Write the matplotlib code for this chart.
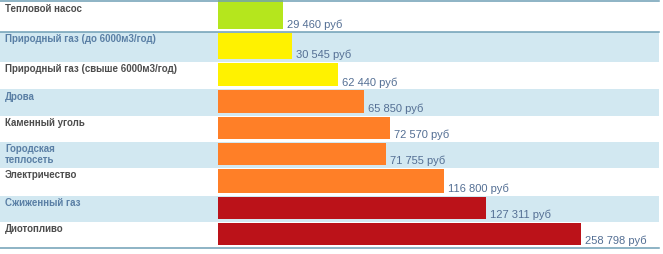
import matplotlib.pyplot as plt
from matplotlib.patches import Rectangle

# categories, yearly heating cost and the bar lengths as drawn in the picture
# (the original bars are not proportional to the costs)
categories = ["Тепловой насос", "Природный газ (до 6000м3/год)",
              "Природный газ (свыше 6000м3/год)", "Дрова", "Каменный уголь",
              "Городская\nтеплосеть", "Электричество", "Сжиженный газ", "Диотопливо"]
costs = [29460, 30545, 62440, 65850, 72570, 71755, 116800, 127311, 258798]
bar_len = [65, 74, 120, 146, 172, 168, 226, 268, 363]
bar_colors = ["#b5e61d", "#fff200", "#fff200", "#ff7f27", "#ff7f27",
              "#ff7f27", "#ff7f27", "#bb1219", "#bb1219"]

W, H = 663, 254
fig = plt.figure(figsize=(W / 100, H / 100), dpi=100)
ax = fig.add_axes([0, 0, 1, 1])
ax.set_xlim(0, W)
ax.set_ylim(H, 0)
ax.axis("off")

edges = [1, 32, 62, 89, 116, 142, 168, 196, 222, 248]
x0 = 218
right = 659

for i, (cat, val, ln, col) in enumerate(zip(categories, costs, bar_len, bar_colors)):
    top, bot = edges[i], edges[i + 1]
    if i % 2 == 1:
        ax.add_patch(Rectangle((0, top), right, bot - top, color="#d2e8f1", lw=0, zorder=0))
        tcol = "#5a7fa5"
    else:
        tcol = "#4d4d4d"
    btop = top + 1 if i else 0
    bbot = bot - 3.5
    ax.barh((btop + bbot) / 2, ln, height=bbot - btop, left=x0, color=col, zorder=2)
    ax.text(x0 + ln + 4, bbot, f"{val:,} руб".replace(",", " "), fontsize=8,
            family="Liberation Sans", color="#546f94", va="baseline", zorder=3)
    ax.text(5, top + 2.5, cat, fontsize=7, fontweight="bold", family="Liberation Sans",
            color=tcol, va="top", linespacing=1.05, zorder=3)

for y in (1, 32, 248):
    ax.plot([0, right], [y, y], color="#6f9fb5", lw=1.1, zorder=4)

fig.savefig("out.png", dpi=100)
